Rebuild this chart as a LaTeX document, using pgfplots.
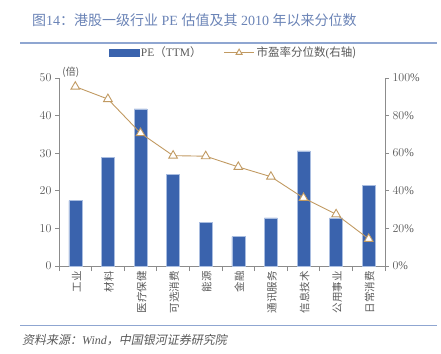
\documentclass[border=0pt]{standalone}
\usepackage{fontspec}
\setmainfont{Liberation Serif}
\newfontfamily\cjk{Noto Sans CJK SC}
\newfontfamily\cjkit{Noto Sans CJK SC}[FakeSlant=0.2]
\usepackage{pgfplots}
\pgfplotsset{compat=1.18}
\definecolor{barblue}{HTML}{3A63AD}
\definecolor{baredge}{HTML}{A9BDE0}
\definecolor{linetan}{HTML}{C19A62}
\definecolor{axgray}{HTML}{8C8C8C}
\definecolor{txtgray}{HTML}{595959}
\definecolor{titleblue}{HTML}{6A83B6}
\definecolor{rulecol}{HTML}{8FA6D1}
\begin{document}
\begin{tikzpicture}[x=1pt,y=1pt]
\path (0,0) rectangle (441,353);
\node[anchor=west, text=titleblue, font=\fontsize{14}{16}\selectfont, inner sep=0pt] at (32,333)
  {{\cjk 图}14{\cjk ：港股一级行业} PE {\cjk 估值及其} 2010 {\cjk 年以来分位数}};
\draw[rulecol, line width=1.5pt] (20,310) -- (437,310);
\draw[rulecol, line width=1pt] (20,28) -- (437,28);
\node[anchor=west, text=txtgray, font=\fontsize{12}{14}\selectfont, inner sep=0pt] at (22,13)
  {{\cjkit 资料来源：}\textit{Wind}{\cjkit ，中国银河证券研究院}};
\begin{axis}[
  at={(59pt,87pt)}, anchor=south west, scale only axis,
  width=326pt, height=188pt,
  xmin=-0.5, xmax=9.5, ymin=0, ymax=50,
  ytick={0,10,...,50},
  axis y line*=left, axis x line*=bottom,
  axis line style={axgray, line width=0.8pt},
  tick style={axgray, line width=0.8pt},
  tick align=outside, major tick length=4pt, minor tick length=5pt,
  xtick={0,...,9},
  xticklabels={工业,材料,医疗保健,可选消费,能源,金融,通讯服务,信息技术,公用事业,日常消费},
  major x tick style={draw=none},
  minor xtick={-0.5,0.5,...,9.5},
  xticklabel style={rotate=90, anchor=east, font=\cjk\fontsize{10.5}{11}\selectfont, text=txtgray, inner sep=1pt, yshift=-1pt},
  yticklabel style={font=\fontsize{11.5}{12}\selectfont, text=txtgray},
  clip=false,
]
\addplot[ybar, bar width=13pt, fill=barblue, draw=baredge, line width=0.6pt]
  coordinates {(0,17.4) (1,28.9) (2,41.8) (3,24.4) (4,11.5) (5,7.8) (6,12.8) (7,30.6) (8,12.8) (9,21.5)};
\node[anchor=south west, font=\cjk\fontsize{10}{11}\selectfont, text=txtgray, inner sep=0pt] at (rel axis cs:0.01,1.0) {(倍)};
\end{axis}
\begin{axis}[
  at={(59pt,87pt)}, anchor=south west, scale only axis,
  width=326pt, height=188pt,
  xmin=-0.5, xmax=9.5, ymin=0, ymax=100,
  ytick={0,20,...,100},
  yticklabel={\pgfmathprintnumber{\tick}\%},
  axis y line*=right, axis x line=none,
  axis line style={axgray, line width=0.8pt},
  tick style={axgray, line width=0.8pt},
  tick align=outside, major tick length=4pt,
  yticklabel style={font=\fontsize{11.5}{12}\selectfont, text=txtgray},
  clip=false,
  legend columns=2,
  legend style={at={(0.535,1.135)}, anchor=center, draw=none, fill=none,
    font=\fontsize{11.5}{13}\selectfont, text=txtgray,
    /tikz/every even column/.append style={column sep=20pt}},
]
\addlegendimage{legend image code/.code={\fill[barblue] (0pt,-3.5pt) rectangle (30pt,3.5pt);}}
\addlegendentry{PE{\cjk （}TTM{\cjk ）}}
\addplot[linetan, line width=0.9pt, mark=triangle*, mark size=5pt,
  mark options={fill=white, draw=linetan, line width=0.9pt},
  legend image code/.code={\draw[linetan, line width=0.9pt] (0pt,0pt) -- (30pt,0pt);
     \draw[linetan, fill=white, line width=0.8pt] plot[mark=triangle*, mark size=3.5pt] coordinates {(15pt,0pt)};}]
  coordinates {(0,95.4) (1,88.8) (2,70.7) (3,58.7) (4,58.4) (5,52.7) (6,47.5) (7,36.2) (8,27.5) (9,14.4)};
\addlegendentry{{\cjk 市盈率分位数}(\cjk 右轴)}
\end{axis}
\end{tikzpicture}
\end{document}
